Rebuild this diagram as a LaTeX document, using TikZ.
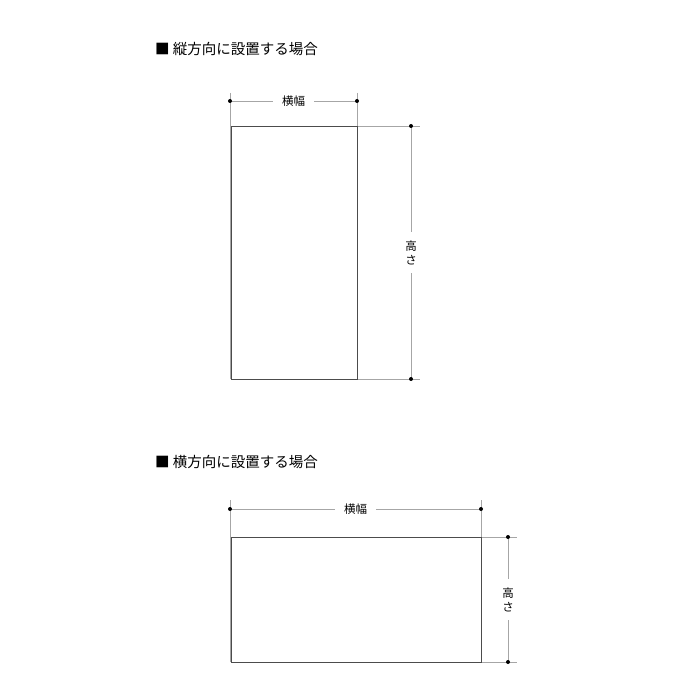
\documentclass[tikz,border=0pt]{standalone}
\usepackage{fontspec}
\newfontfamily\jp{Noto Sans CJK JP}
\tikzset{
	outline/.style={draw=black!70, line width=0.8pt},
	dimline/.style={draw=black!35, line width=0.6pt},
	dimlabel/.style={fill=white, inner xsep=9pt, inner ysep=2pt, font=\jp\fontsize{11.5}{13}\selectfont},
	vlabel/.style={fill=white, inner xsep=2pt, inner ysep=8pt, align=center, text width=12pt, font=\jp\fontsize{11.5}{14}\selectfont},
	heading/.style={anchor=west, inner sep=0pt, font=\jp\fontsize{14.5}{16}\selectfont},
	tip/.style={circle, fill=black, inner sep=0pt, minimum size=4pt}
}
\begin{document}
\begin{tikzpicture}[x=1pt,y=-1pt]
\useasboundingbox[fill=white] (0,0) rectangle (700,700);
% headings
\node[heading] (h1) at (155,49) {■ 縦方向に設置する場合};
\node[heading] (h2) at (155,462) {■ 横方向に設置する場合};
% upright panel
\coordinate (a1) at (231,126); \coordinate (a2) at (357,379);
\coordinate (w1l) at (230,101); \coordinate (w1r) at (357,101);
\coordinate (h1t) at (411,126); \coordinate (h1b) at (411,379);
\coordinate (e1l) at (230,93); \coordinate (e1r) at (357,93);
\coordinate (e1t) at (420,126); \coordinate (e1b) at (420,379);
\draw[dimline] (e1l) -- (230,379);
\draw[dimline] (e1r) -- (a1-|e1r);
\draw[dimline] (a1-|a2) -- (e1t);
\draw[dimline] (a2) -- (e1b);
\draw[outline] (a1) rectangle (a2);
\draw[dimline] (w1l) -- (w1r) node[dimlabel, midway] (w1) {横幅};
\draw[dimline] (h1t) -- (h1b) node[vlabel, midway] (ht1) {高\\さ};
\foreach \p in {w1l,w1r,h1t,h1b} \node[tip] at (\p) {};
% lying panel
\coordinate (b1) at (231,537); \coordinate (b2) at (481,662);
\coordinate (w2l) at (230,509); \coordinate (w2r) at (481,509);
\coordinate (h2t) at (508,537); \coordinate (h2b) at (508,662);
\coordinate (e2l) at (230,500); \coordinate (e2r) at (481,500);
\coordinate (e2t) at (517,537); \coordinate (e2b) at (517,662);
\draw[dimline] (e2l) -- (230,662);
\draw[dimline] (e2r) -- (b1-|e2r);
\draw[dimline] (b1-|b2) -- (e2t);
\draw[dimline] (b2) -- (e2b);
\draw[outline] (b1) rectangle (b2);
\draw[dimline] (w2l) -- (w2r) node[dimlabel, midway] (w2) {横幅};
\draw[dimline] (h2t) -- (h2b) node[vlabel, midway] (ht2) {高\\さ};
\foreach \p in {w2l,w2r,h2t,h2b} \node[tip] at (\p) {};
\end{tikzpicture}
\end{document}
